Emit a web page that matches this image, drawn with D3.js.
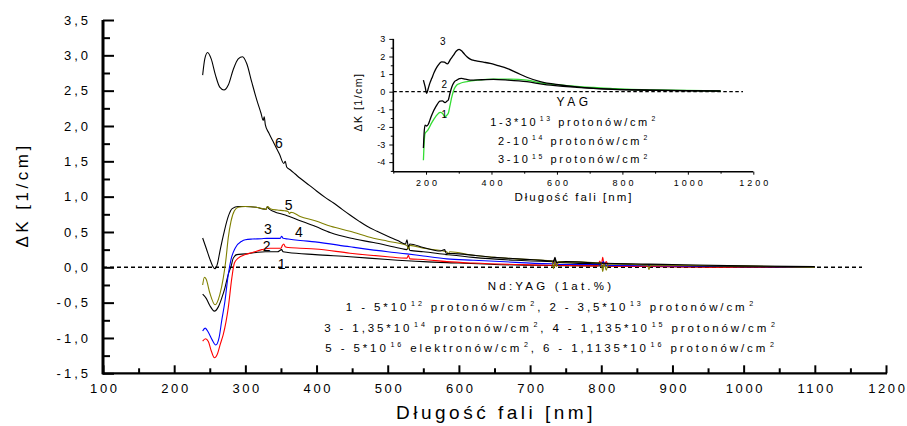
<!DOCTYPE html>
<html><head><meta charset="utf-8">
<script src="https://cdn.jsdelivr.net/npm/d3@7"></script>
<style>body{margin:0;background:#fff}svg{display:block}text{font-family:"Liberation Sans",Arial,sans-serif;fill:#000}</style>
</head><body><svg id="c" width="907" height="426"></svg>
<script>
// ---------- main chart data ----------
const xTicks=[100,200,300,400,500,600,700,800,900,1000,1100,1200];
const xTickLabels=["100","200","300","400","500","600","700","800","900","1000","1100","1200"];
const xMinor=[150,250,350,450,550,650,750,850,950,1050,1150];
const yTicks=[3.5,3,2.5,2,1.5,1,0.5,0,-0.5,-1,-1.5];
const yTickLabels=["3,5","3,0","2,5","2,0","1,5","1,0","0,5","0,0","-0,5","-1,0","-1,5"];
const yMinor=[3.25,2.75,2.25,1.75,1.25,0.75,0.25,-0.25,-0.75,-1.25];

const curve6=[[240,2.72],[243,2.95],[247,3.04],[252,2.95],[258,2.72],[264,2.55],[270,2.51],[276,2.58],[283,2.80],[290,2.95],[296,2.98],[302,2.88],[309,2.62],[316,2.37],[322,2.18],[325,2.08],[326.5,2.13],[328,2.02],[333,1.90],[340,1.76],[348,1.60],[354,1.47],[356,1.50],[358,1.42],[363,1.38],[370,1.32],[377,1.26],[390,1.16],[400,1.08],[412,0.99],[424,0.91],[436,0.82],[447,0.74],[460,0.65],[471,0.58],[485,0.51],[500,0.44],[514,0.38],[525,0.33],[527,0.39],[529,0.29],[531,0.33],[550,0.28],[574,0.23],[580,0.25],[582,0.20],[600,0.19],[650,0.14],[700,0.11],[733,0.09],[735,0.14],[737,0.07],[750,0.08],[800,0.06],[900,0.04],[1000,0.02],[1100,0.01]];
const curve5=[[240,-0.25],[242.5,-0.14],[245,-0.17],[250,-0.36],[257.5,-0.53],[264,-0.39],[269,-0.15],[272.4,0.085],[276,0.42],[279.8,0.65],[284.6,0.80],[290,0.85],[300,0.86],[315,0.85],[325,0.83],[329,0.82],[331,0.86],[335,0.83],[345,0.81],[355,0.80],[360,0.79],[362,0.76],[364,0.78],[377,0.72],[398,0.66],[420,0.58],[447,0.51],[480,0.41],[500,0.37],[527,0.31],[529,0.26],[531,0.31],[550,0.27],[583,0.22],[585,0.18],[587,0.22],[620,0.17],[680,0.12],[731,0.09],[733,-0.02],[735,0.09],[737,0.01],[740,0.08],[800,0.06],[802,-0.06],[804,0.05],[807,-0.04],[810,0.05],[865,0.03],[867,-0.03],[869,0.03],[900,0.03],[1000,0.02],[1100,0.0]];
const curve4=[[240,0.415],[245,0.27],[250,0.12],[254,0.02],[257.5,-0.02],[261,0.06],[264.3,0.23],[270.4,0.51],[276,0.72],[281.5,0.83],[290,0.86],[300,0.86],[315,0.85],[323,0.83],[329,0.82],[331,0.86],[333,0.83],[340,0.79],[356,0.74],[377,0.66],[398,0.58],[420,0.49],[447,0.415],[480,0.35],[517,0.27],[527,0.25],[529,0.30],[531,0.24],[550,0.22],[583,0.18],[620,0.14],[680,0.10],[733,0.08],[735,0.12],[737,0.07],[800,0.05],[900,0.03],[1000,0.01],[1100,0.0]];
const curve3=[[240,-0.90],[243.5,-0.86],[248,-0.92],[253,-1.02],[258.5,-1.10],[263,-1.0],[266.7,-0.76],[271.3,-0.48],[276,-0.10],[279.8,0.11],[285.6,0.27],[295,0.37],[300,0.39],[310,0.40],[323,0.405],[330,0.41],[340,0.41],[349,0.41],[351,0.44],[353,0.41],[360,0.40],[377,0.38],[398,0.36],[447,0.29],[500,0.22],[527,0.19],[550,0.16],[583,0.12],[620,0.10],[680,0.07],[733,0.05],[735,0.09],[737,0.04],[800,0.04],[803,0.08],[806,0.03],[900,0.02],[1000,0.01],[1100,0.0]];
const curve2=[[240,-1.045],[244,-1.01],[248,-1.05],[252,-1.18],[256.5,-1.28],[261,-1.22],[265,-1.08],[269,-0.95],[276,-0.57],[281,-0.15],[284.6,0.06],[290,0.13],[300,0.18],[310,0.21],[323,0.25],[335,0.27],[350,0.27],[352,0.31],[354,0.33],[356,0.29],[360,0.28],[377,0.27],[398,0.26],[447,0.20],[500,0.15],[527,0.13],[529,0.17],[531,0.12],[550,0.11],[583,0.08],[620,0.06],[680,0.04],[731,0.03],[733,0.10],[735,0.02],[737,0.07],[740,0.03],[795,0.02],[798,0.09],[800,0.02],[802,0.14],[804,0.03],[807,0.08],[810,0.02],[900,0.01],[1000,0.0],[1100,0.0]];
const curve1=[[240,-0.38],[245,-0.44],[250,-0.54],[256.5,-0.62],[262,-0.56],[267,-0.43],[271.3,-0.29],[276,-0.10],[279.8,0.01],[283,0.13],[288,0.18],[300,0.19],[315,0.21],[328,0.22],[345,0.22],[351,0.25],[353,0.22],[360,0.21],[398,0.18],[447,0.15],[500,0.11],[550,0.08],[600,0.06],[650,0.04],[700,0.03],[800,0.02],[900,0.01],[1000,0.0],[1100,0.0]];

const mainSeries=[
  {data:curve1,color:"#000000"},{data:curve2,color:"#ff0000"},{data:curve3,color:"#0000ff"},
  {data:curve4,color:"#000000"},{data:curve5,color:"#808000"},{data:curve6,color:"#000000"}];
const mainLabels=["1","2","3","4","5","6"];
const mainLabelAt=[[281.7,269],[266.7,251],[268,234.3],[299,236.7],[288.7,210],[279,148.3]];
const mainLegend=["Nd:YAG (1at.%)",
 "1 - 5*10^{12} protonów/cm^{2}, 2 - 3,5*10^{13} protonów/cm^{2}",
 "3 - 1,35*10^{14} protonów/cm^{2}, 4 - 1,135*10^{15} protonów/cm^{2}",
 "5 - 5*10^{16} elektronów/cm^{2}, 6 - 1,1135*10^{16} protonów/cm^{2}"];

// ---------- inset data ----------
const ixTicks=[200,400,600,800,1000,1200];
const ixTickLabels=["200","400","600","800","1000","1200"];
const ixMinor=[100,300,500,700,900,1100];
const iyTicks=[3,2,1,0,-1,-2,-3,-4];
const iyTickLabels=["3","2","1","0","-1","-2","-3","-4"];
const iyMinor=[2.5,1.5,0.5,-0.5,-1.5,-2.5,-3.5,-4.5];
const inset3=[[192,0.66],[197,0.3],[202,-0.09],[207,0.2],[212,0.5],[217.6,0.76],[225,1.1],[235,1.45],[248,1.70],[256,1.68],[265.4,1.58],[275,1.85],[284,2.08],[292,2.3],[301,2.41],[310,2.3],[318,2.12],[325,1.99],[335,1.85],[350,1.76],[375,1.68],[396,1.61],[420,1.48],[447,1.33],[475,1.1],[508,0.82],[549,0.57],[610,0.38],[660,0.27],[712,0.19],[814,0.1],[900,0.07],[1000,0.05],[1100,0.03]];
const inset2=[[192,-3.2],[194,-2.4],[197,-1.9],[202,-1.95],[207,-1.85],[212,-1.6],[217.6,-1.32],[230,-0.85],[243,-0.53],[250,-0.52],[258,-0.62],[263,-0.55],[268,-0.47],[273,-0.1],[279,0.28],[286,0.55],[294,0.66],[302,0.74],[309,0.76],[320,0.71],[335,0.66],[370,0.68],[406,0.70],[450,0.66],[508,0.57],[559,0.42],[610,0.32],[660,0.25],[712,0.19],[814,0.12],[900,0.09],[1000,0.06],[1100,0.04]];
const inset1=[[192,-3.9],[194,-3.0],[197,-2.37],[205,-2.2],[217.6,-1.76],[230,-1.4],[243,-1.17],[250,-1.22],[258,-1.42],[263,-1.35],[268,-1.23],[273,-0.8],[279,-0.28],[286,0.15],[294,0.38],[305,0.48],[325,0.57],[360,0.66],[406,0.72],[457,0.72],[508,0.66],[559,0.47],[610,0.38],[660,0.3],[712,0.24],[763,0.19],[814,0.14],[900,0.1],[1000,0.07],[1100,0.05]];
const insetSeries=[{data:inset1,color:"#33dd33"},{data:inset2,color:"#000000"},{data:inset3,color:"#000000"}];
const insetLabels=["1","2","3"];
const insetLabelAt=[[444.3,117.7],[444.3,88.3],[442.7,45]];
const insetLegend=["YAG","1-3*10^{13} protonów/cm^{2}","2-10^{14} protonów/cm^{2}","3-10^{15} protonów/cm^{2}"];

// ---------- drawing ----------
const svg=d3.select("#c");
function richText(g,str,x,yb,size,ls){
  const t=g.append("text").attr("x",x).attr("y",yb).attr("text-anchor","middle")
    .style("font-size",size+"px").style("letter-spacing",ls+"px");
  const parts=str.split(/(\^\{[^}]*\})/).filter(s=>s.length);
  let shifted=false;
  parts.forEach(p=>{
    if(p.startsWith("^{")){
      t.append("tspan").text(p.slice(2,-1)).style("font-size",(size*0.62)+"px")
       .attr("dx",ls*0.6).attr("dy",shifted?0:-size*0.42);
      shifted=true;
    } else {
      t.append("tspan").text(p).attr("dy",shifted?size*0.42:0);
      shifted=false;
    }
  });
  return t;
}

// main scales
const x=d3.scaleLinear().domain([100,1200]).range([103,886]);
const y=d3.scaleLinear().domain([-1.5,3.5]).range([373.3,20]);
const line=d3.line().x(d=>x(d[0])).y(d=>y(d[1])).curve(d3.curveMonotoneX);

// zero line
svg.append("line").attr("x1",x(100)).attr("x2",862).attr("y1",y(0)).attr("y2",y(0))
  .attr("stroke","#000").attr("stroke-width",1.4).attr("stroke-dasharray","4,3");

mainSeries.forEach(s=>{
  svg.append("path").attr("d",line(s.data)).attr("fill","none")
    .attr("stroke",s.color).attr("stroke-width",1.1);
});

mainLabels.forEach((l,i)=>{
  svg.append("text").attr("x",mainLabelAt[i][0]).attr("y",mainLabelAt[i][1])
    .attr("text-anchor","middle").style("font-size","14px").text(l);
});

// axes
const gx=svg.append("g").attr("transform",`translate(0,${y(-1.5)})`);
gx.call(d3.axisBottom(x).tickValues(xTicks).tickSize(-8).tickPadding(10).tickFormat((d,i)=>xTickLabels[i]));
gx.append("g").call(d3.axisBottom(x).tickValues(xMinor).tickSize(-5).tickFormat(""));
gx.selectAll("path.domain").remove();
gx.selectAll("line").attr("stroke","#000").attr("stroke-width",2);
gx.selectAll("text").style("font-size","13px").style("letter-spacing","2.6px")
  .style("font-family","'Liberation Sans',Arial,sans-serif").attr("fill","#000").attr("dx","1.3px");
svg.append("line").attr("x1",x(100)-1).attr("x2",x(1200)+1).attr("y1",y(-1.5)).attr("y2",y(-1.5))
  .attr("stroke","#000").attr("stroke-width",2.2);

const gy=svg.append("g").attr("transform",`translate(${x(100)},0)`);
gy.call(d3.axisLeft(y).tickValues(yTicks).tickSize(-11).tickPadding(12).tickFormat((d,i)=>yTickLabels[i]));
gy.append("g").call(d3.axisLeft(y).tickValues(yMinor).tickSize(-7).tickFormat(""));
gy.selectAll("path.domain").remove();
gy.selectAll("line").attr("stroke","#000").attr("stroke-width",2);
gy.selectAll("text").style("font-size","13px").style("letter-spacing","3px")
  .style("font-family","'Liberation Sans',Arial,sans-serif").attr("fill","#000");
svg.append("line").attr("x1",x(100)).attr("x2",x(100)).attr("y1",y(3.5)).attr("y2",y(-1.5)+1)
  .attr("stroke","#000").attr("stroke-width",3);

// titles
svg.append("text").attr("x",496).attr("y",419).attr("text-anchor","middle")
  .style("font-size","19px").style("letter-spacing","3.5px").text("Długość fali [nm]");
svg.append("text").attr("transform","translate(28,195) rotate(-90)").attr("text-anchor","middle")
  .style("font-size","17px").style("letter-spacing","3.5px").text("ΔK  [1/cm]");

// main legend
const legG=svg.append("g");
const legY=[290,311,332,352];
mainLegend.forEach((s,i)=>richText(legG,s,551,legY[i],11.5,i===0?3.2:2.9));

// ---------- inset ----------
const ix=d3.scaleLinear().domain([100,1200]).range([393.3,753.3]);
const iy=d3.scaleLinear().domain([-4.5,3]).range([170.9,38.9]);
const iline=d3.line().x(d=>ix(d[0])).y(d=>iy(d[1])).curve(d3.curveMonotoneX);

svg.append("line").attr("x1",ix(100)).attr("x2",743).attr("y1",iy(0)).attr("y2",iy(0))
  .attr("stroke","#000").attr("stroke-width",1.3).attr("stroke-dasharray","3.5,2.5");
insetSeries.forEach(s=>{
  svg.append("path").attr("d",iline(s.data)).attr("fill","none")
    .attr("stroke",s.color).attr("stroke-width",1.3);
});
insetLabels.forEach((l,i)=>{
  svg.append("text").attr("x",insetLabelAt[i][0]).attr("y",insetLabelAt[i][1])
    .attr("text-anchor","middle").style("font-size","10px").text(l);
});

const igx=svg.append("g").attr("transform",`translate(0,171.7)`);
igx.call(d3.axisBottom(ix).tickValues(ixTicks).tickSize(3).tickPadding(5).tickFormat((d,i)=>ixTickLabels[i]));
igx.append("g").call(d3.axisBottom(ix).tickValues(ixMinor).tickSize(2).tickFormat(""));
igx.selectAll("path.domain").remove();
igx.selectAll("line").attr("stroke","#000").attr("stroke-width",1);
igx.selectAll("text").style("font-size","9px").style("letter-spacing","3px")
  .style("font-family","'Liberation Sans',Arial,sans-serif").attr("fill","#000").attr("dx","1.5px");
svg.append("line").attr("x1",ix(100)).attr("x2",ix(1200)).attr("y1",171.7).attr("y2",171.7)
  .attr("stroke","#000").attr("stroke-width",1.6);

const igy=svg.append("g").attr("transform",`translate(${ix(100)},0)`);
igy.call(d3.axisLeft(iy).tickValues(iyTicks).tickSize(4).tickPadding(4).tickFormat((d,i)=>iyTickLabels[i]));
igy.append("g").call(d3.axisLeft(iy).tickValues(iyMinor).tickSize(2.5).tickFormat(""));
igy.selectAll("path.domain").remove();
igy.selectAll("line").attr("stroke","#000").attr("stroke-width",1);
igy.selectAll("text").style("font-size","9px")
  .style("font-family","'Liberation Sans',Arial,sans-serif").attr("fill","#000");
svg.append("line").attr("x1",ix(100)).attr("x2",ix(100)).attr("y1",iy(3)).attr("y2",171.7)
  .attr("stroke","#000").attr("stroke-width",1.6);

svg.append("text").attr("x",574).attr("y",201).attr("text-anchor","middle")
  .style("font-size","11.5px").style("letter-spacing","2px").text("Długość fali [nm]");
svg.append("text").attr("transform","translate(361.5,102) rotate(-90)").attr("text-anchor","middle")
  .style("font-size","10.5px").style("letter-spacing","1.5px").text("ΔK  [1/cm]");

const ilegY=[106,126,144.5,163.3];
insetLegend.forEach((s,i)=>richText(svg,s,574,ilegY[i],i===0?12:11,i===0?3.5:2.6));
</script></body></html>
